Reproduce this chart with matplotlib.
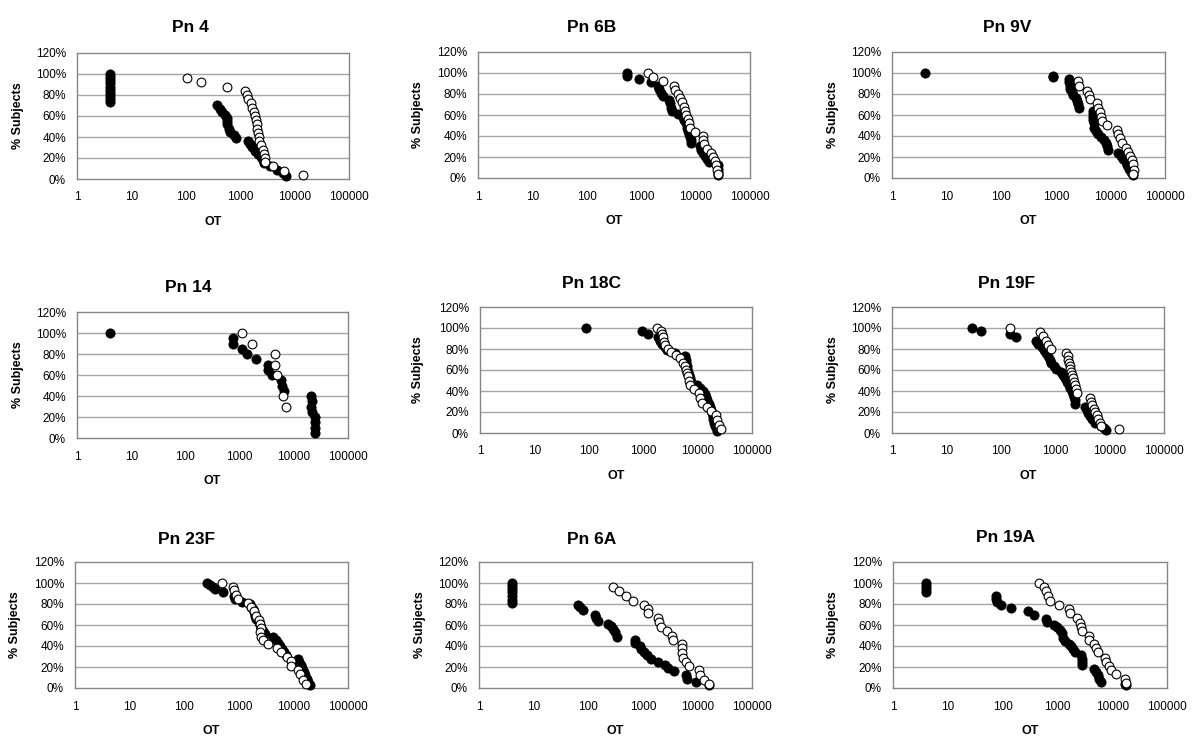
import matplotlib
matplotlib.use("Agg")
import matplotlib.pyplot as plt
from matplotlib.ticker import FixedLocator, FuncFormatter, NullLocator

plt.rcParams['font.family'] = ['Liberation Sans', 'DejaVu Sans']

# ---------------- data (OT values vs % subjects) ----------------
titles = ["Pn 4", "Pn 6B", "Pn 9V", "Pn 14", "Pn 18C", "Pn 19F", "Pn 23F", "Pn 6A", "Pn 19A"]
x_ticks = [1, 10, 100, 1000, 10000, 100000]
x_tick_labels = ["1", "10", "100", "1000", "10000", "100000"]
y_ticks = [0, 20, 40, 60, 80, 100, 120]

# Pn 4
pn4_filled_x = [4, 4, 4, 4, 4, 4, 4, 4, 4, 4, 370, 420, 470, 530, 560, 570, 580, 610, 660, 780, 830,
                1400, 1500, 1650, 1850, 2100, 2400, 2600, 2700, 3600, 4800, 6200, 7000]
pn4_filled_y = [100, 97, 94, 91, 88, 85, 82, 79, 76, 73, 70, 67, 64, 61, 58, 55, 52, 48, 45, 42, 39,
                36, 33, 30, 27, 24, 21, 18, 15, 12, 9, 6, 3]
pn4_open_x = [105, 190, 560, 1250, 1330, 1420, 1550, 1650, 1800, 1900, 1950, 2000, 2050, 2100, 2200,
              2250, 2400, 2600, 2700, 2800, 2900, 4000, 6300, 14000]
pn4_open_y = [96, 92, 88, 84, 80, 76, 72, 68, 64, 60, 56, 52, 48, 44, 40, 36, 32, 28, 24, 20, 16, 12, 8, 4]

# Pn 6B
pn6b_filled_x = [545, 545, 910, 1540, 2040, 2150, 2300, 2500, 3200, 3400, 3550, 3650, 4800, 5800, 6200,
                 6600, 6900, 7200, 7600, 7900, 8200, 8400, 12000, 12500, 13500, 14800, 16500, 18000,
                 26000, 26000, 26000, 26000]
pn6b_filled_y = [100, 97, 94, 91, 88, 85, 81, 78, 74, 71, 67, 64, 61, 58, 55, 52, 48, 45, 42, 39, 36, 33,
                 30, 27, 24, 21, 18, 15, 12, 9, 6, 3]
pn6b_open_x = [1330, 1650, 2500, 4000, 4200, 4800, 5100, 5600, 6000, 6400, 6800, 7200, 7600, 8000, 9600,
               13500, 13500, 14000, 16000, 19000, 21000, 22500, 24000, 25000, 26000]
pn6b_open_y = [100, 96, 92, 88, 84, 80, 76, 72, 68, 64, 60, 56, 52, 48, 44, 40, 36, 32, 28, 24, 20, 16,
               12, 8, 4]

# Pn 9V
pn9v_filled_x = [4, 900, 880, 1750, 1780, 1800, 1850, 1950, 2100, 2300, 2400, 2500, 2700, 4800, 4800,
                 4900, 4900, 5000, 5100, 5400, 5900, 6600, 7500, 8200, 8600, 9000, 14000, 15500, 17000,
                 19000, 20500, 22000, 24000, 26000]
pn9v_filled_y = [100, 97, 96, 94, 91, 88, 85, 82, 79, 76, 73, 70, 67, 64, 61, 58, 55, 52, 48, 45, 42, 39,
                 36, 33, 30, 27, 24, 21, 18, 15, 12, 9, 6, 3]
pn9v_open_x = [2500, 2700, 3700, 4100, 4200, 5700, 6000, 6400, 6700, 6900, 8500, 13000, 14000, 15000,
               16000, 19000, 21000, 23000, 25000, 26000, 26500, 25500]
pn9v_open_y = [92, 88, 83, 79, 75, 71, 67, 63, 58, 54, 50, 46, 42, 38, 33, 29, 25, 21, 17, 13, 8, 4]

# Pn 14
pn14_filled_x = [4, 760, 760, 1130, 1350, 2050, 3400, 3400, 3900, 5800, 6000, 6600, 21000, 22000, 21000,
                 22000, 25000, 25000, 25000, 25000]
pn14_filled_y = [100, 95, 90, 85, 80, 75, 70, 65, 60, 55, 50, 45, 40, 35, 30, 25, 20, 15, 10, 5]
pn14_open_x = [1130, 1700, 4450, 4450, 5000, 6200, 7300]
pn14_open_y = [100, 90, 80, 70, 60, 40, 30]

# Pn 18C
pn18c_filled_x = [88, 950, 1230, 1900, 2000, 2200, 2500, 2700, 3900, 5900, 6000, 6100, 6300, 6500, 6800,
                  7000, 7300, 7600, 9800, 11000, 12500, 13500, 14500, 15000, 16000, 17000, 17500, 18500,
                  19000, 19500, 20000, 21000, 22500, 23000]
pn18c_filled_y = [100, 97, 94, 91, 88, 85, 82, 79, 76, 73, 70, 67, 64, 61, 58, 55, 52, 49, 46, 43, 40,
                  37, 34, 31, 28, 25, 22, 19, 16, 13, 10, 7, 4, 2]
pn18c_open_x = [1830, 2100, 2200, 2300, 2400, 2500, 2900, 3200, 4000, 4700, 5500, 5800, 6000, 6300, 6600,
                6900, 7300, 8600, 10500, 11000, 12000, 15000, 18000, 22000, 23000, 25000, 27000]
pn18c_open_y = [100, 97, 94, 91, 87, 84, 80, 77, 74, 71, 67, 64, 60, 57, 54, 50, 46, 42, 38, 33, 29, 25,
                21, 17, 12, 8, 4]

# Pn 19F
pn19f_filled_x = [29, 44, 150, 190, 450, 480, 560, 620, 690, 740, 790, 850, 950, 1050, 1300, 1400, 1500,
                  1650, 1800, 1900, 2000, 2100, 2200, 2300, 2350, 3500, 3800, 4000, 4300, 4800, 5500,
                  7000, 7800, 8500]
pn19f_filled_y = [100, 97, 94, 91, 88, 85, 82, 79, 76, 73, 70, 67, 64, 61, 58, 55, 52, 49, 46, 43, 40,
                  37, 34, 31, 28, 25, 22, 19, 16, 13, 10, 7, 5, 3]
pn19f_open_x = [150, 520, 600, 680, 750, 850, 1600, 1700, 1750, 1800, 1850, 1900, 1950, 2000, 2100, 2200,
                2300, 2400, 2500, 4300, 4500, 4800, 5100, 5400, 5800, 6200, 6600, 7000, 15000]
pn19f_open_y = [100, 96, 92, 88, 84, 80, 76, 73, 70, 67, 64, 61, 58, 55, 52, 49, 46, 42, 38, 33, 30, 27,
                23, 20, 17, 13, 10, 7, 4]

# Pn 23F
pn23f_filled_x = [260, 300, 330, 370, 510, 800, 850, 1150, 1600, 1700, 1800, 1900, 2000, 2100, 2300, 2400,
                  2600, 2800, 3000, 4300, 4800, 5300, 5800, 6300, 6800, 7200, 12000, 12500, 13500, 14500,
                  15500, 16500, 17500, 18500, 20000]
pn23f_filled_y = [100, 98, 96, 94, 91, 88, 85, 82, 80, 77, 75, 72, 69, 66, 63, 60, 57, 54, 51, 49, 46, 43,
                  40, 37, 34, 31, 28, 25, 22, 19, 15, 12, 9, 6, 3]
pn23f_open_x = [500, 780, 800, 900, 950, 1500, 1700, 1900, 2100, 2300, 2400, 2500, 2450, 2500, 2800, 3400,
                5000, 6000, 7500, 9000, 9200, 12000, 13000, 15000, 17000]
pn23f_open_y = [100, 96, 93, 89, 85, 81, 77, 73, 69, 65, 61, 57, 53, 49, 46, 42, 38, 34, 30, 26, 21, 17,
                13, 8, 4]

# Pn 6A
pn6a_filled_x = [4, 4, 4, 4, 4, 4, 4, 66, 72, 80, 135, 140, 150, 230, 260, 290, 310, 340, 720, 730, 900,
                 920, 1050, 1200, 1400, 1900, 2600, 2900, 3700, 6200, 6400, 9500, 16000]
pn6a_filled_y = [100, 97, 94, 91, 88, 84, 81, 79, 77, 74, 70, 67, 64, 61, 59, 56, 53, 49, 46, 43, 40, 37,
                 34, 31, 28, 25, 22, 19, 16, 12, 9, 6, 3]
pn6a_open_x = [290, 360, 500, 650, 1060, 1270, 1270, 1900, 2000, 2200, 2750, 3400, 3600, 5200, 5200, 5300,
               5500, 6200, 7000, 10700, 11000, 13000, 16000]
pn6a_open_y = [96, 92, 88, 83, 79, 75, 71, 67, 63, 58, 54, 50, 46, 42, 38, 33, 29, 25, 21, 17, 12, 8, 4]

# Pn 19A
pn19a_filled_x = [4, 4, 4, 4, 75, 75, 78, 95, 140, 290, 370, 620, 650, 850, 1000, 1100, 1200, 1250, 1400,
                  1600, 1800, 1950, 2100, 2700, 2800, 2800, 2850, 4600, 5000, 5400, 5800, 6300, 17000,
                  17500]
pn19a_filled_y = [100, 97, 94, 91, 88, 85, 82, 79, 76, 73, 70, 66, 63, 60, 58, 55, 52, 48, 45, 42, 40, 37,
                  34, 31, 28, 25, 22, 18, 15, 12, 9, 6, 4, 3]
pn19a_open_x = [455, 560, 620, 680, 720, 1070, 1620, 1700, 2300, 2600, 2700, 2800, 3700, 3800, 4700, 5100,
                5600, 7400, 7800, 8900, 9500, 11800, 17000, 18000]
pn19a_open_y = [100, 96, 92, 88, 83, 79, 75, 71, 67, 62, 58, 54, 50, 46, 42, 38, 34, 29, 25, 21, 17, 13,
                9, 5]

filled_x = [pn4_filled_x, pn6b_filled_x, pn9v_filled_x, pn14_filled_x, pn18c_filled_x, pn19f_filled_x,
            pn23f_filled_x, pn6a_filled_x, pn19a_filled_x]
filled_y = [pn4_filled_y, pn6b_filled_y, pn9v_filled_y, pn14_filled_y, pn18c_filled_y, pn19f_filled_y,
            pn23f_filled_y, pn6a_filled_y, pn19a_filled_y]
open_x = [pn4_open_x, pn6b_open_x, pn9v_open_x, pn14_open_x, pn18c_open_x, pn19f_open_x,
          pn23f_open_x, pn6a_open_x, pn19a_open_x]
open_y = [pn4_open_y, pn6b_open_y, pn9v_open_y, pn14_open_y, pn18c_open_y, pn19f_open_y,
          pn23f_open_y, pn6a_open_y, pn19a_open_y]

# ---------------- layout (pixel boxes: left, top, right, bottom) ----------------
W, H = 1200, 752
boxes = [(77, 53, 349, 179), (478, 52, 750, 178), (892, 52, 1165, 178),
         (77, 312, 348, 438), (480, 307, 752, 433), (892, 307, 1164, 433),
         (75, 562, 348, 688), (479, 562, 752, 688), (893, 562, 1167, 688)]
title_pos = [(190, 28), (592, 28), (1007, 28), (188, 288), (592, 283), (1007, 283),
             (187, 540), (592, 540), (1005, 538)]
ylab_x = [18, 418, 833, 18, 418, 833, 15, 420, 833]

fig = plt.figure(figsize=(W / 100, H / 100), dpi=100)
fig.patch.set_facecolor('white')

grid_c = '#a6a6a6'
spine_c = '#868686'

for i in range(9):
    l, t, r, b = boxes[i]
    ax = fig.add_axes([l / W, 1 - b / H, (r - l) / W, (b - t) / H])
    ax.set_xscale('log')
    ax.set_xlim(1, 100000)
    ax.set_ylim(0, 120)
    ax.xaxis.set_major_locator(FixedLocator(x_ticks))
    ax.xaxis.set_minor_locator(NullLocator())
    ax.set_xticklabels(x_tick_labels)
    ax.yaxis.set_major_locator(FixedLocator(y_ticks))
    ax.yaxis.set_major_formatter(FuncFormatter(lambda v, p: f"{int(v)}%"))
    ax.tick_params(axis='both', length=0, labelsize=8.5, colors='#000000')
    ax.tick_params(axis='x', pad=9)
    ax.tick_params(axis='y', pad=8)
    for yv in [20, 40, 60, 80, 100]:
        ax.axhline(yv, color=grid_c, lw=1.0, zorder=0)
    for s in ax.spines.values():
        s.set_color(spine_c)
        s.set_linewidth(1.0)
    ax.scatter(filled_x[i], filled_y[i], s=44, c='black', edgecolors='black', linewidths=0.6,
               zorder=3, clip_on=False)
    ax.scatter(open_x[i], open_y[i], s=40, c='white', edgecolors='black', linewidths=0.8,
               zorder=4, clip_on=False)
    # title
    tx, ty = title_pos[i]
    fig.text(tx / W, 1 - ty / H, titles[i], ha='center', va='center', fontsize=12.5,
             fontweight='bold')
    # y label
    fig.text(ylab_x[i] / W, 1 - ((t + b) / 2) / H, "% Subjects", rotation=90, ha='center',
             va='center', fontsize=9, fontweight='bold')
    # x label
    fig.text(((l + r) / 2) / W, 1 - (b + 43) / H, "OT", ha='center', va='center', fontsize=9,
             fontweight='bold')

fig.savefig('out.png', dpi=100, facecolor='white')
